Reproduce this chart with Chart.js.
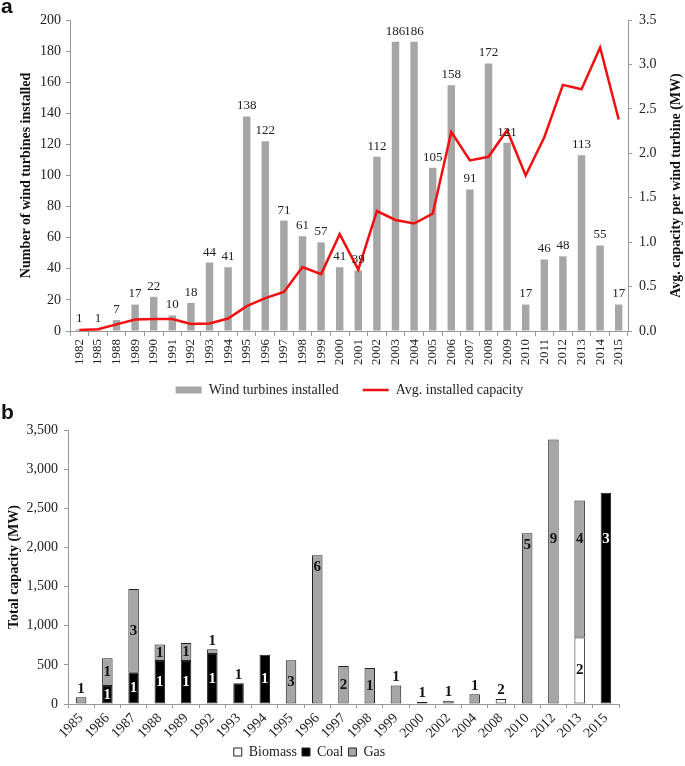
<!DOCTYPE html>
<html>
<head>
<meta charset="utf-8">
<script src="https://cdn.jsdelivr.net/npm/chart.js@4"></script>
<style>
  body { margin: 0; background: #fff; }
  #wrap { position: relative; width: 685px; height: 766px; overflow: hidden; }
  canvas { position: absolute; left: 0; }
  .panel { position: absolute; left: 1px; font: bold 21px "Liberation Sans", Arial, sans-serif; line-height: 21px; color: #111; }
</style>
</head>
<body>
<div id="wrap">
  <canvas id="chartA" width="685" height="407" style="top:0"></canvas>
  <canvas id="chartB" width="685" height="370" style="top:400px"></canvas>
  <div class="panel" style="top:-5px">a</div>
  <div class="panel" style="top:401px">b</div>
</div>
<script>
// panel a
const yearsA = ["1982", "1985", "1988", "1989", "1990", "1991", "1992", "1993", "1994", "1995",
  "1996", "1997", "1998", "1999", "2000", "2001", "2002", "2003", "2004", "2005",
  "2006", "2007", "2008", "2009", "2010", "2011", "2012", "2013", "2014", "2015"];
const turbinesInstalled = [1, 1, 7, 17, 22, 10, 18, 44, 41, 138,
  122, 71, 61, 57, 41, 39, 112, 186, 186, 105,
  158, 91, 172, 121, 17, 46, 48, 113, 55, 17];
const avgCapacity = [0.01, 0.02, 0.075, 0.13, 0.135, 0.135, 0.08, 0.085, 0.14, 0.28,
  0.37, 0.44, 0.72, 0.64, 1.09, 0.69, 1.35, 1.25, 1.21, 1.32,
  2.24, 1.92, 1.96, 2.26, 1.75, 2.18, 2.77, 2.72, 3.19, 2.38];

// panel b
const yearsB = ["1985", "1986", "1987", "1988", "1989", "1992", "1993", "1994", "1995", "1996",
  "1997", "1998", "1999", "2000", "2002", "2004", "2008", "2010", "2012", "2013", "2015"];
const biomassMW = [null, null, null, null, null, null, null, null, null, null,
  null, null, null, 25, null, null, 65, null, null, 850, null];
const coalMW = [null, 230, 400, 550, 550, 640, 265, 630, null, null,
  null, null, null, null, null, null, null, null, null, null, 2700];
const gasMW = [85, 355, 1070, 210, 230, 60, null, null, 560, 1900,
  485, 460, 235, null, 40, 125, null, 2180, 3380, 1750, null];
const biomassPlants = [null, null, null, null, null, null, null, null, null, null,
  null, null, null, 1, null, null, 2, null, null, 2, null];
const coalPlants = [null, 1, 1, 1, 1, 1, 1, 1, null, null,
  null, null, null, null, null, null, null, null, null, null, 3];
const gasPlants = [1, 1, 3, 1, 1, 1, null, null, 3, 6,
  2, 1, 1, null, 1, 1, null, 5, 9, 4, null];

const serif = '"Liberation Serif", "Times New Roman", serif';
const axisGrey = "#999";
const textColor = "#222";
const barGrey = "#a6a6a6";

const tickFont = { family: serif, size: 14 };

// numbers over the turbine bars
const barValueLabels = {
  id: "barValueLabels",
  afterDatasetsDraw(chart) {
    const ctx = chart.ctx;
    const meta = chart.getDatasetMeta(1);
    ctx.save();
    ctx.font = "13px " + serif;
    ctx.fillStyle = textColor;
    ctx.textAlign = "center";
    ctx.textBaseline = "bottom";
    meta.data.forEach((bar, i) => {
      ctx.fillText(String(turbinesInstalled[i]), bar.x, bar.y - 4);
    });
    ctx.restore();
  }
};

// right axis title reads bottom to top like the left one
const rightAxisTitle = {
  id: "rightAxisTitle",
  afterDraw(chart) {
    const { ctx, chartArea } = chart;
    ctx.save();
    ctx.translate(chart.width - 9, (chartArea.top + chartArea.bottom) / 2 + 10);
    ctx.rotate(-Math.PI / 2);
    ctx.font = "bold 14px " + serif;
    ctx.fillStyle = "#111";
    ctx.textAlign = "center";
    ctx.textBaseline = "middle";
    ctx.fillText("Avg. capacity per wind turbine (MW)", 0, 0);
    ctx.restore();
  }
};

new Chart(document.getElementById("chartA"), {
  type: "bar",
  data: {
    labels: yearsA,
    datasets: [
      {
        type: "line",
        label: "Avg. installed capacity",
        data: avgCapacity,
        yAxisID: "y1",
        borderColor: "#f01010",
        backgroundColor: "#f01010",
        borderWidth: 2.5,
        pointRadius: 0,
        tension: 0,
        pointStyle: "line",
        order: 0
      },
      {
        label: "Wind turbines installed",
        data: turbinesInstalled,
        yAxisID: "y",
        backgroundColor: barGrey,
        borderWidth: 0,
        barPercentage: 0.4,
        categoryPercentage: 1,
        pointStyle: "rect",
        order: 1
      }
    ]
  },
  options: {
    responsive: false,
    animation: false,
    layout: { padding: { top: 20, left: 14, right: 0, bottom: 0 } },
    plugins: {
      tooltip: { enabled: false },
      legend: {
        position: "bottom",
        reverse: true,
        labels: {
          usePointStyle: true,
          pointStyleWidth: 26,
          boxHeight: 7,
          padding: 10,
          color: textColor,
          font: { family: serif, size: 14 },
          generateLabels(chart) {
            const items = Chart.defaults.plugins.legend.labels.generateLabels(chart);
            // wider gap between the two entries, as in the original
            items.forEach(it => { if (it.datasetIndex === 1) it.text += "\u2003"; });
            return items;
          }
        }
      }
    },
    scales: {
      x: {
        grid: { drawOnChartArea: false, tickLength: 5, color: axisGrey },
        border: { color: axisGrey },
        ticks: { minRotation: 90, maxRotation: 90, autoSkip: false, padding: 3, color: textColor, font: { family: serif, size: 13 } },
        afterFit(scale) { scale.height = 42; }
      },
      y: {
        position: "left",
        min: 0,
        max: 200,
        grid: { drawOnChartArea: false, tickLength: 4, color: axisGrey },
        border: { color: axisGrey },
        ticks: { stepSize: 20, padding: 5, color: textColor, font: tickFont },
        title: {
          display: true,
          text: "Number of wind turbines installed",
          color: "#111",
          font: { family: serif, size: 14, weight: "bold" },
          padding: { top: 4, bottom: 0 }
        },
        afterFit(scale) { scale.width = 56; }
      },
      y1: {
        position: "right",
        min: 0,
        max: 3.5,
        grid: { drawOnChartArea: false, tickLength: 4, color: axisGrey },
        border: { color: axisGrey },
        ticks: { stepSize: 0.5, padding: 7, color: textColor, font: tickFont, callback: v => v.toFixed(1) },
        afterFit(scale) { scale.width = 57; }
      }
    }
  },
  plugins: [barValueLabels, rightAxisTitle]
});

// plant counts on the stacked bars
const plantCounts = [biomassPlants, coalPlants, gasPlants];
const LABEL_CAP_MW = 2100;

const stackCountLabels = {
  id: "stackCountLabels",
  afterDatasetsDraw(chart) {
    const ctx = chart.ctx;
    const yScale = chart.scales.y;
    const metas = plantCounts.map((_, d) => chart.getDatasetMeta(d));
    ctx.save();
    ctx.font = "bold 15px " + serif;
    ctx.textAlign = "center";
    yearsB.forEach((_, i) => {
      const parts = metas.filter((m, d) => chart.data.datasets[d].data[i] != null);
      const stackTop = Math.min(...parts.map(m => m.data[i].y));
      metas.forEach((meta, d) => {
        const count = plantCounts[d][i];
        if (count == null) return;
        const bar = meta.data[i];
        const h = bar.base - bar.y;
        const minInside = parts.length > 1 ? 12 : 21;
        if (h >= minInside) {
          let y = (bar.y + bar.base) / 2;
          if (h > 120) y = Math.max(Math.min(y, yScale.getPixelForValue(LABEL_CAP_MW)), bar.y + 12);
          ctx.fillStyle = d === 1 ? "#fff" : "#111";
          ctx.textBaseline = "middle";
          ctx.fillText(String(count), bar.x, y);
        } else {
          ctx.fillStyle = "#111";
          ctx.textBaseline = "bottom";
          ctx.fillText(String(count), bar.x, stackTop - 1);
        }
      });
    });
    ctx.restore();
  }
};

const barStyleB = { borderColor: "#222", borderWidth: 1, borderSkipped: false, barPercentage: 0.4, categoryPercentage: 1 };

new Chart(document.getElementById("chartB"), {
  type: "bar",
  data: {
    labels: yearsB,
    datasets: [
      Object.assign({ label: "Biomass", data: biomassMW, backgroundColor: "#fff" }, barStyleB),
      Object.assign({ label: "Coal", data: coalMW, backgroundColor: "#000" }, barStyleB),
      Object.assign({ label: "Gas", data: gasMW, backgroundColor: barGrey }, barStyleB)
    ]
  },
  options: {
    responsive: false,
    animation: false,
    layout: { padding: { top: 30, left: 0, right: 66, bottom: 1 } },
    plugins: {
      tooltip: { enabled: false },
      legend: {
        position: "bottom",
        labels: { boxWidth: 8, boxHeight: 8, padding: 5, color: textColor, font: { family: serif, size: 14 } }
      }
    },
    scales: {
      x: {
        stacked: true,
        grid: { drawOnChartArea: false, tickLength: 4, color: axisGrey },
        border: { color: axisGrey },
        ticks: { minRotation: 45, maxRotation: 45, autoSkip: false, padding: 2, color: textColor, font: tickFont },
        afterFit(scale) { scale.height = 36; }
      },
      y: {
        stacked: true,
        min: 0,
        max: 3500,
        grid: { drawOnChartArea: false, tickLength: 4, color: axisGrey },
        border: { color: axisGrey },
        ticks: { stepSize: 500, padding: 6, color: textColor, font: tickFont, callback: v => v.toLocaleString("en-US") },
        title: {
          display: true,
          text: "Total capacity (MW)",
          color: "#111",
          font: { family: serif, size: 14, weight: "bold" },
          padding: { top: 6, bottom: 0 }
        },
        afterFit(scale) { scale.width = 68; }
      }
    }
  },
  plugins: [stackCountLabels]
});
</script>
</body>
</html>
